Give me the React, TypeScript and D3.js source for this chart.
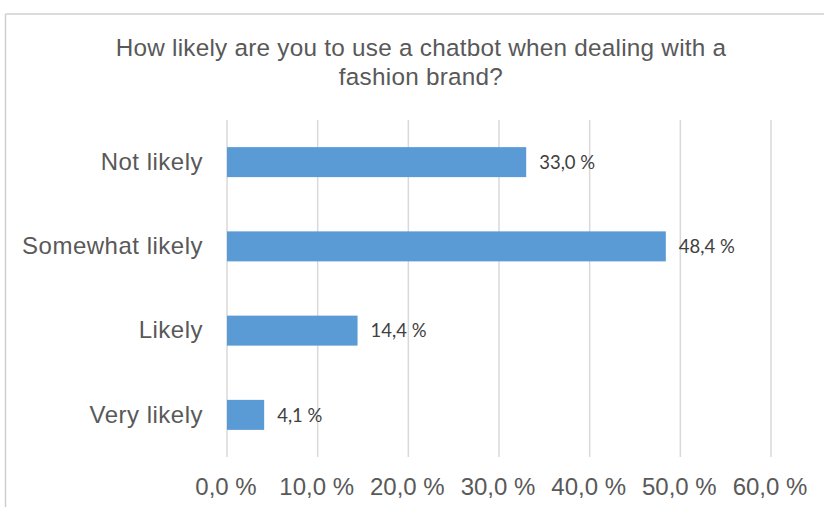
import React from "react";
import * as d3 from "d3";

const title = ["How likely are you to use a chatbot when dealing with a", "fashion brand?"];
const categories = ["Not likely", "Somewhat likely", "Likely", "Very likely"];
const values = [33.0, 48.4, 14.4, 4.1];
const ticks = [0, 10, 20, 30, 40, 50, 60];

const W = 824;
const H = 507;

const fmt = (v: number) => v.toFixed(1).replace(".", ",") + " %";

export default function App() {
  const x = d3.scaleLinear().domain([0, 60]).range([227, 771]);
  const y = d3.scaleBand<string>().domain(categories).range([120, 457]).paddingInner(0.644).paddingOuter(0.322);
  const labelFont = "'Liberation Sans', Arial, Helvetica, sans-serif";
  return (
    <div style={{ position: "absolute", left: 0, top: 0 }}>
      <svg width={W} height={H} style={{ display: "block", background: "#fff" }}>
        <rect x={0} y={0} width={W} height={H} fill="#fff" />
        <line x1={5.5} x2={W} y1={14} y2={14} stroke="#cfcfcf" strokeWidth={1.5} />
        <line x1={5.5} x2={5.5} y1={14} y2={H} stroke="#cfcfcf" strokeWidth={1.5} />
        {title.map((t, i) => (
          <text key={i} x={421} y={56 + i * 29} textAnchor="middle" fontFamily={labelFont} fontSize={24.3} letterSpacing={0.25} fill="#595959">
            {t}
          </text>
        ))}
        {ticks.map((t) => (
          <line key={t} x1={x(t)} x2={x(t)} y1={120} y2={457} stroke="#d9d9d9" strokeWidth={1.5} />
        ))}
        {categories.map((c, i) => (
          <g key={c}>
            <rect
              x={x(0)}
              y={y(c)!}
              width={x(values[i]) - x(0)}
              height={y.bandwidth()}
              fill="#5b9bd5"
            />
            <text
              x={x(values[i]) + 13}
              y={y(c)! + y.bandwidth() / 2}
              dy="0.36em"
              fontFamily="Lato, 'Open Sans', sans-serif"
              fontSize={18.5}
              fill="#404040"
            >
              {fmt(values[i])}
            </text>
            <text
              x={203}
              y={y(c)! + y.bandwidth() / 2}
              dy="0.32em"
              textAnchor="end"
              fontFamily={labelFont}
              fontSize={24}
              letterSpacing={0.5}
              fill="#595959"
            >
              {c}
            </text>
          </g>
        ))}
        {ticks.map((t) => (
          <text key={"l" + t} x={x(t) - 1} y={495} textAnchor="middle" fontFamily={labelFont} fontSize={24} fill="#595959">
            {fmt(t)}
          </text>
        ))}
      </svg>
    </div>
  );
}
